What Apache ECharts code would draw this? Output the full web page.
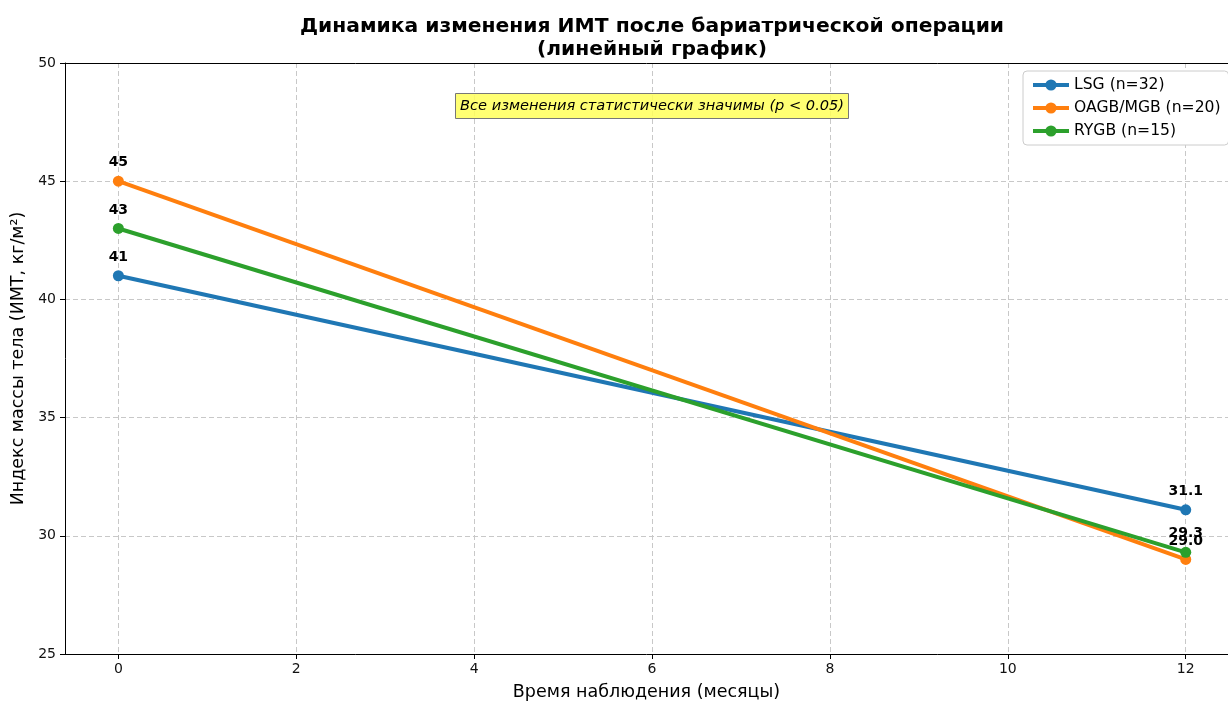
<!DOCTYPE html>
<html><head><meta charset="utf-8">
<script src="https://cdn.jsdelivr.net/npm/echarts@6/dist/echarts.min.js"></script>
<style>html,body{margin:0;padding:0;background:#fff}#c{width:1228px;height:706px}</style>
</head><body><div id="c"></div>
<script>
const months = [0, 12];
const seriesNames = ['LSG (n=32)', 'OAGB/MGB (n=20)', 'RYGB (n=15)'];
const lsg = [41, 31.1];
const oagb = [45, 29.0];
const rygb = [43, 29.3];
const xTicks = [0, 2, 4, 6, 8, 10, 12];
const colors = ['#1f77b4', '#ff7f0e', '#2ca02c'];
const titleText = 'Динамика изменения ИМТ после бариатрической операции\n(линейный график)';
const noteText = 'Все изменения статистически значимы (p < 0.05)';
const xName = 'Время наблюдения (месяцы)';
const yName = 'Индекс массы тела (ИМТ, кг/м²)';

const font = 'DejaVu Sans';
const X_MIN = -0.6, X_MAX = 12.475;
function mk(name, vals, color) {
  return {
    name, type: 'line', data: months.map((m, i) => [m, vals[i]]),
    color, symbol: 'circle', symbolSize: 11,
    lineStyle: { width: 4, color }, itemStyle: { color },
    label: { show: true, position: 'top', distance: 6, fontFamily: font, fontWeight: 'bold', fontSize: 14, color: '#000',
      formatter: p => p.dataIndex === 0 ? String(p.value[1]) : p.value[1].toFixed(1) },
    emphasis: { disabled: true }, animation: false
  };
}
const gridLine = { show: true, lineStyle: { color: '#c8c8c8', type: [5, 3], width: 1 } };
const chart = echarts.init(document.getElementById('c'), null, { renderer: 'canvas' });
chart.setOption({
  animation: false,
  textStyle: { fontFamily: font },
  title: [
    { text: titleText, left: 647, textAlign: 'center', top: 10,
      textStyle: { fontFamily: font, fontWeight: 'bold', fontSize: 20.3, lineHeight: 23, color: '#000' } },
    { text: noteText, left: 455, top: 93, padding: [6, 5, 5, 5], backgroundColor: 'rgba(255,255,90,0.85)', borderColor: '#777', borderWidth: 1,
      textStyle: { fontFamily: font, fontStyle: 'italic', fontWeight: 'normal', fontSize: 14.6, color: '#000' } }
  ],
  legend: {
    orient: 'vertical', left: 1023, top: 71, padding: [6, 8], itemGap: 7,
    itemWidth: 36, itemHeight: 14, backgroundColor: '#fff', borderColor: '#ccc', borderWidth: 1, borderRadius: 4,
    lineStyle: { width: 4 },
    textStyle: { fontFamily: font, fontSize: 15.6, color: '#000' },
    data: seriesNames
  },
  grid: { left: 65, right: 0, top: 63, bottom: 48 },
  xAxis: [{
    type: 'value', min: X_MIN, max: X_MAX,
    name: xName, nameLocation: 'middle', nameGap: 29,
    nameTextStyle: { fontFamily: font, fontSize: 17.5, color: '#000' },
    axisLine: { show: true, onZero: false, lineStyle: { color: '#000', width: 1 } },
    axisTick: { show: true, length: 5, customValues: xTicks, lineStyle: { color: '#000' } },
    axisLabel: { customValues: xTicks, margin: 8, fontFamily: font, fontSize: 14, color: '#111' },
    splitLine: gridLine
  }, {
    type: 'value', position: 'top', min: X_MIN, max: X_MAX,
    axisLine: { show: true, onZero: false, lineStyle: { color: '#000', width: 1 } },
    axisTick: { show: false }, axisLabel: { show: false }, splitLine: { show: false }
  }],
  yAxis: {
    type: 'value', min: 25, max: 50, interval: 5,
    name: yName, nameLocation: 'middle', nameGap: 36, nameRotate: 90,
    nameTextStyle: { fontFamily: font, fontSize: 17.5, color: '#000' },
    axisLine: { show: true, onZero: false, lineStyle: { color: '#000', width: 1 } },
    axisTick: { show: true, length: 5, lineStyle: { color: '#000' } },
    axisLabel: { margin: 9, fontFamily: font, fontSize: 14, color: '#111' },
    splitLine: gridLine
  },
  series: [mk(seriesNames[0], lsg, colors[0]), mk(seriesNames[1], oagb, colors[1]), mk(seriesNames[2], rygb, colors[2])]
});
</script></body></html>
